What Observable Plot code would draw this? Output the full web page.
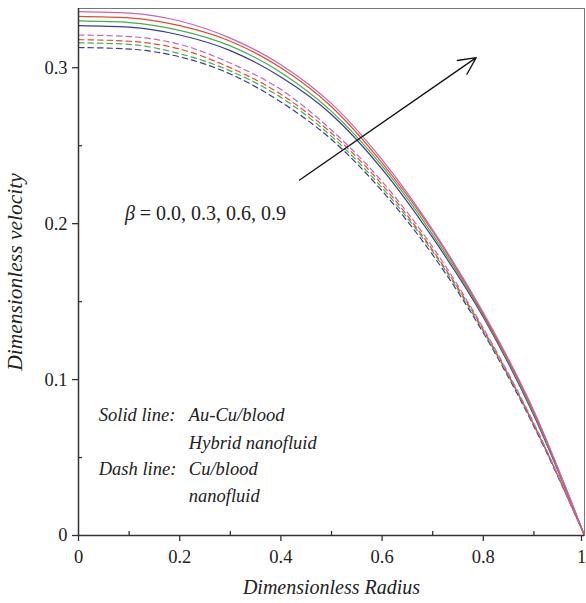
<!DOCTYPE html>
<html>
<head>
<meta charset="utf-8">
<script src="https://cdn.jsdelivr.net/npm/d3@7"></script>
<script src="https://cdn.jsdelivr.net/npm/@observablehq/plot@0.6"></script>
<style>
  html, body { margin: 0; padding: 0; background: white; }
  #chart { width: 586px; height: 603px; }
</style>
</head>
<body>
<div id="chart"></div>
<script>
// Dimensionless radius sample points
const radius = [0, 0.1, 0.2, 0.3, 0.4, 0.5, 0.6, 0.7, 0.8, 0.9, 1.0];

// Solid lines: Au-Cu/blood hybrid nanofluid (beta = 0.9, 0.6, 0.3, 0.0 from top)
const hybridBeta09 = [0.336, 0.335, 0.330, 0.319, 0.302, 0.277, 0.241, 0.196, 0.143, 0.080, 0];
const hybridBeta06 = [0.333, 0.332, 0.327, 0.317, 0.300, 0.275, 0.239, 0.195, 0.142, 0.079, 0];
const hybridBeta03 = [0.330, 0.329, 0.324, 0.314, 0.297, 0.272, 0.237, 0.193, 0.141, 0.078, 0];
const hybridBeta00 = [0.327, 0.326, 0.321, 0.311, 0.294, 0.270, 0.235, 0.191, 0.140, 0.077, 0];

// Dashed lines: Cu/blood nanofluid
const cuBeta09 = [0.321, 0.320, 0.315, 0.303, 0.286, 0.260, 0.227, 0.185, 0.133, 0.072, 0];
const cuBeta06 = [0.318, 0.317, 0.312, 0.300, 0.283, 0.258, 0.225, 0.183, 0.132, 0.071, 0];
const cuBeta03 = [0.316, 0.315, 0.309, 0.298, 0.281, 0.256, 0.223, 0.182, 0.131, 0.071, 0];
const cuBeta00 = [0.313, 0.312, 0.307, 0.296, 0.278, 0.254, 0.221, 0.180, 0.130, 0.070, 0];

// Tick values
const xTicks = [0, 0.2, 0.4, 0.6, 0.8];
const xLastTick = [1];
const xMinorTicks = [0.1, 0.3, 0.5, 0.7, 0.9];
const yTicks = [0, 0.1, 0.2, 0.3];
const yMinorTicks = [0.05, 0.15, 0.25];

const colors = {b09: "#cc62b8", b06: "#ee4a2a", b03: "#3cb54a", b00: "#3a3a98"};

const series = [
  {values: hybridBeta00, color: colors.b00, dash: null},
  {values: hybridBeta03, color: colors.b03, dash: null},
  {values: hybridBeta06, color: colors.b06, dash: null},
  {values: hybridBeta09, color: colors.b09, dash: null},
  {values: cuBeta00, color: colors.b00, dash: "5.5,4"},
  {values: cuBeta03, color: colors.b03, dash: "5.5,4"},
  {values: cuBeta06, color: colors.b06, dash: "5.5,4"},
  {values: cuBeta09, color: colors.b09, dash: "5.5,4"}
];

const fmt = d => (d === 0 ? "0" : d === 1 ? "1" : d.toFixed(1));

const legendRows = [
  {x: 0.04, y: 0.0775, text: "Solid line:"},
  {x: 0.218, y: 0.0775, text: "Au-Cu/blood"},
  {x: 0.218, y: 0.0595, text: "Hybrid nanofluid"},
  {x: 0.04, y: 0.0425, text: "Dash line:"},
  {x: 0.218, y: 0.0425, text: "Cu/blood"},
  {x: 0.218, y: 0.0255, text: "nanofluid"}
];

const arrowData = [{x1: 0.437, y1: 0.228, x2: 0.786, y2: 0.3065}];

const lineMarks = series.map(s =>
  Plot.line(radius.map((r, i) => ({r, u: s.values[i]})), {
    x: "r", y: "u", stroke: s.color, strokeWidth: 1.2,
    strokeDasharray: s.dash, curve: "monotone-x"
  })
);

const axisStyle = {stroke: "#333", strokeWidth: 1.3, fill: "#222"};

const chart = Plot.plot({
  width: 586,
  height: 603,
  marginLeft: 78,
  marginRight: 2,
  marginTop: 8,
  marginBottom: 68,
  x: {domain: [0, 1]},
  y: {domain: [0, 0.338]},
  style: {fontFamily: "'Liberation Serif', 'DejaVu Serif', serif", fontSize: "18px", background: "white", color: "#222"},
  marks: [
    Plot.frame({stroke: "#777", strokeWidth: 1}),
    ...lineMarks,
    Plot.ruleY([0], {stroke: "#333", strokeWidth: 1.5}),
    Plot.ruleX([0], {stroke: "#333", strokeWidth: 1.5}),
    Plot.axisX(xTicks, {anchor: "bottom", tickSize: 6, tickPadding: 8, tickFormat: fmt, label: null, fontSize: 18.5, ...axisStyle}),
    Plot.axisX(xLastTick, {anchor: "bottom", tickSize: 6, tickPadding: 8, tickFormat: fmt, label: null, fontSize: 18.5, dx: -3, ...axisStyle}),
    Plot.axisX(xMinorTicks, {anchor: "bottom", tickSize: 4, insetBottom: 4, tickFormat: () => "", label: null, ...axisStyle}),
    Plot.axisY(yTicks, {anchor: "left", tickSize: 6, tickPadding: 5, tickFormat: fmt, label: null, fontSize: 18.5, ...axisStyle}),
    Plot.axisY(yMinorTicks, {anchor: "left", tickSize: 4, insetLeft: 4, tickFormat: () => "", label: null, ...axisStyle}),
    Plot.text(["Dimensionless Radius"], {frameAnchor: "bottom", dy: 58, fontStyle: "italic", fontSize: 20, fill: "#222"}),
    Plot.text(["Dimensionless velocity"], {frameAnchor: "left", textAnchor: "middle", dx: -63, rotate: -90, fontStyle: "italic", fontSize: 21.5, fill: "#222"}),
    Plot.arrow(arrowData, {x1: "x1", y1: "y1", x2: "x2", y2: "y2", bend: 0, headLength: 22, headAngle: 52, stroke: "#111", strokeWidth: 1.3}),
    Plot.text([{x: 0.092, y: 0.2067}], {x: "x", y: "y", text: () => "β", fontStyle: "italic", textAnchor: "start", fontSize: 20, fill: "#222"}),
    Plot.text([{x: 0.121, y: 0.2067}], {x: "x", y: "y", text: () => "= 0.0, 0.3, 0.6, 0.9", textAnchor: "start", fontSize: 20, fill: "#222"}),
    Plot.text(legendRows, {x: "x", y: "y", text: "text", textAnchor: "start", fontStyle: "italic", fontSize: 18.5, fill: "#222"})
  ]
});

document.getElementById("chart").appendChild(chart);
</script>
</body>
</html>
